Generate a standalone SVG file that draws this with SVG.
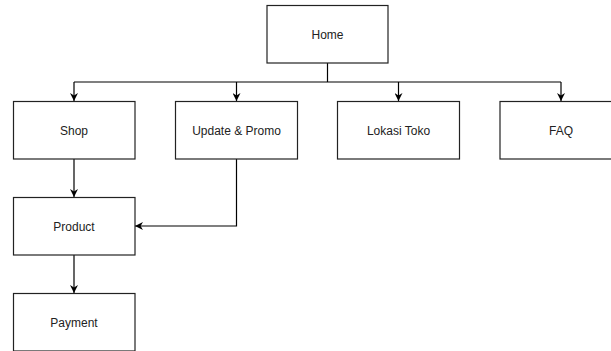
<svg xmlns="http://www.w3.org/2000/svg" width="611" height="351" viewBox="0 0 611 351">
<defs>
<marker id="ah" viewBox="0 0 10 10" refX="10" refY="5" markerWidth="8" markerHeight="8" markerUnits="userSpaceOnUse" orient="auto">
<path d="M0,0 L10,5 L0,10 L3,5 Z" fill="#000"/>
</marker>
<style>
.box{fill:#fff;stroke:#222;stroke-width:1.2}
.lbl{font-family:"Liberation Sans",Arial,sans-serif;font-size:12px;fill:#222;text-anchor:middle;dominant-baseline:central}
.edge{fill:none;stroke:#000;stroke-width:1.2}
</style>
</defs>
<rect width="611" height="351" fill="#fff"/>
<g id="connectors">
<path class="edge" d="M327.5,63 V82"/>
<path class="edge" d="M74,82 H561"/>
<path class="edge" d="M74,82 V101" marker-end="url(#ah)"/>
<path class="edge" d="M236.5,82 V101" marker-end="url(#ah)"/>
<path class="edge" d="M398.5,82 V101" marker-end="url(#ah)"/>
<path class="edge" d="M561,82 V101" marker-end="url(#ah)"/>
<path class="edge" d="M74,159 V197" marker-end="url(#ah)"/>
<path class="edge" d="M236.5,159 V226 H135" marker-end="url(#ah)"/>
<path class="edge" d="M74,255 V293" marker-end="url(#ah)"/>
</g>
<g id="home"><rect class="box" x="267" y="5.5" width="121" height="57.5"/><text class="lbl" x="327.5" y="34.5">Home</text></g>
<g id="shop"><rect class="box" x="13.5" y="101.5" width="121.5" height="57.5"/><text class="lbl" x="74" y="130.5">Shop</text></g>
<g id="update"><rect class="box" x="175.5" y="101.5" width="122" height="57.5"/><text class="lbl" x="236.5" y="130.5">Update &amp; Promo</text></g>
<g id="lokasi"><rect class="box" x="337.5" y="101.5" width="122" height="57.5"/><text class="lbl" x="398.5" y="130.5">Lokasi Toko</text></g>
<g id="faq"><rect class="box" x="500" y="101.5" width="122" height="57.5"/><text class="lbl" x="561" y="130.5">FAQ</text></g>
<g id="product"><rect class="box" x="13.5" y="197.5" width="121.5" height="57.5"/><text class="lbl" x="74" y="226.5">Product</text></g>
<g id="payment"><rect class="box" x="13.5" y="293.5" width="121.5" height="57.5"/><text class="lbl" x="74" y="322.5">Payment</text></g>
</svg>
